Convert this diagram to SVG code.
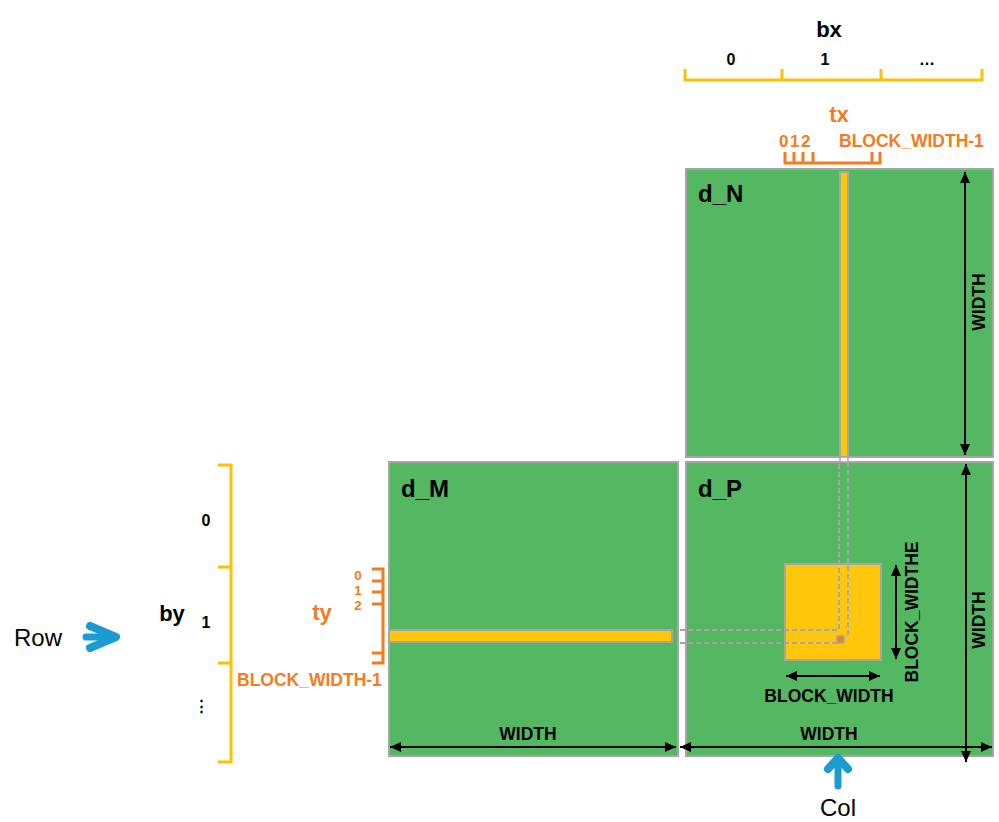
<svg xmlns="http://www.w3.org/2000/svg" width="999" height="822" viewBox="0 0 999 822">
<style>
.mat{fill:#54b862;stroke:#a6a6a6;stroke-width:2}
.hl{fill:#ffc60a;stroke:#a6a6a6;stroke-width:2}
.lbl{font-family:"Liberation Sans",Arial,sans-serif;font-weight:bold;fill:#000}
.or{font-family:"Liberation Sans",Arial,sans-serif;font-weight:bold;fill:#f47b20}
.ys{fill:none;stroke:#ffc000;stroke-width:3}
.os{fill:none;stroke:#f47b20;stroke-width:3}
.dim{fill:none;stroke:#000;stroke-width:2;marker-start:url(#ah);marker-end:url(#ah)}
.dash{fill:none;stroke:#a6a6a6;stroke-width:2;stroke-dasharray:5 3}
.blue{fill:none;stroke:#1a9bd2;stroke-linecap:round;stroke-linejoin:round}
.plain{font-family:"Liberation Sans",Arial,sans-serif;fill:#000}
</style>
<defs>
<marker id="ah" markerUnits="userSpaceOnUse" markerWidth="12" markerHeight="10" refX="11" refY="5" orient="auto-start-reverse">
<path d="M0,0 L11,5 L0,10 z" fill="#000"/>
</marker>
</defs>
<rect width="999" height="822" fill="#fff"/>

<g id="bx-scale">
<text class="lbl" x="829" y="37" font-size="22" text-anchor="middle">bx</text>
<text class="lbl" x="731" y="65" font-size="16" text-anchor="middle">0</text>
<text class="lbl" x="825" y="65" font-size="16" text-anchor="middle">1</text>
<text class="lbl" x="927" y="65" font-size="16" text-anchor="middle">…</text>
<path class="ys" d="M685,69 V80 H982 V69 M782,69 V80 M881,69 V80"/>
</g>

<g id="tx-scale">
<text class="or" x="839" y="122" font-size="22" text-anchor="middle">tx</text>
<text class="or" x="779" y="147" font-size="17" letter-spacing="1.5">012</text>
<text class="or" x="839" y="147" font-size="17.5">BLOCK_WIDTH-1</text>
<path class="os" d="M785,152 V163 H880 V152 M794,152 V163 M803,152 V163 M813,152 V163 M872,152 V163"/>
</g>

<g id="by-scale">
<text class="lbl" x="172" y="621" font-size="22" text-anchor="middle">by</text>
<text class="lbl" x="206" y="526" font-size="16" text-anchor="middle">0</text>
<text class="lbl" x="206" y="628" font-size="16" text-anchor="middle">1</text>
<text class="lbl" x="201" y="711" font-size="15" text-anchor="middle">⋮</text>
<path class="ys" d="M218,465 H231 V762 H218 M218,567 H231 M218,663 H231"/>
</g>

<g id="ty-scale">
<text class="or" x="322" y="620" font-size="22" text-anchor="middle">ty</text>
<text class="or" x="358" y="580" font-size="13.5" text-anchor="middle">0</text>
<text class="or" x="358" y="595" font-size="13.5" text-anchor="middle">1</text>
<text class="or" x="358" y="610" font-size="13.5" text-anchor="middle">2</text>
<text class="or" x="237" y="686" font-size="17.5">BLOCK_WIDTH-1</text>
<path class="os" d="M372,569 H383 V663 H372 M372,581 H383 M372,592 H383 M372,604 H383 M372,653 H383"/>
</g>

<g id="d_N">
<rect class="mat" x="686" y="169" width="307" height="288"/>
<rect class="hl" x="840" y="172" width="8" height="285"/>
<text class="lbl" x="698" y="202" font-size="24">d_N</text>
</g>

<g id="d_M">
<rect class="mat" x="389" y="462" width="289" height="294"/>
<rect class="hl" x="389" y="630" width="283" height="12"/>
<text class="lbl" x="401" y="497" font-size="24">d_M</text>
</g>

<g id="d_P">
<rect class="mat" x="686" y="462" width="307" height="294"/>
<rect class="hl" x="785" y="564" width="96" height="96"/>
<text class="lbl" x="698" y="497" font-size="24">d_P</text>
</g>

<g id="connectors">
<rect x="840" y="457" width="8" height="5" fill="#fff" stroke="#a6a6a6" stroke-width="1.5"/>
<path class="dash" d="M680,630 H839 V462"/>
<path class="dash" d="M680,643 H837"/>
<path class="dash" d="M848,462 V636"/>
<rect x="837" y="636" width="7" height="7" fill="#f47b20" stroke="#a6a6a6" stroke-width="1.5"/>

<path class="dim" d="M965,172 V455"/>
<path class="dim" d="M966,464 V762"/>
<path class="dim" d="M390,747 H676"/>
<path class="dim" d="M680,747 H992"/>
<path class="dim" d="M786,676 H880"/>
<path class="dim" d="M896,565 V659"/>

<text class="lbl" font-size="17.5" text-anchor="middle" transform="translate(985,302) rotate(-90)">WIDTH</text>
<text class="lbl" font-size="17.5" text-anchor="middle" transform="translate(985,620) rotate(-90)">WIDTH</text>
<text class="lbl" x="528" y="740" font-size="17.5" text-anchor="middle">WIDTH</text>
<text class="lbl" x="829" y="740" font-size="17.5" text-anchor="middle">WIDTH</text>
<text class="lbl" x="829" y="702" font-size="17.5" text-anchor="middle">BLOCK_WIDTH</text>
<text class="lbl" font-size="17.5" text-anchor="middle" transform="translate(918,612) rotate(-90)">BLOCK_WIDTHE</text>

<path class="blue" stroke-width="7" d="M86,637 H113"/>
<path class="blue" stroke-width="8" d="M90,626 L116,637 L90,648"/>
<path class="blue" stroke-width="7" d="M838,786 V762"/>
<path class="blue" stroke-width="8" d="M828,769 L838,758 L848,769"/>
</g>
<text class="plain" x="14" y="646" font-size="24">Row</text>
<text class="plain" x="838" y="816" font-size="24" text-anchor="middle">Col</text>
</svg>
